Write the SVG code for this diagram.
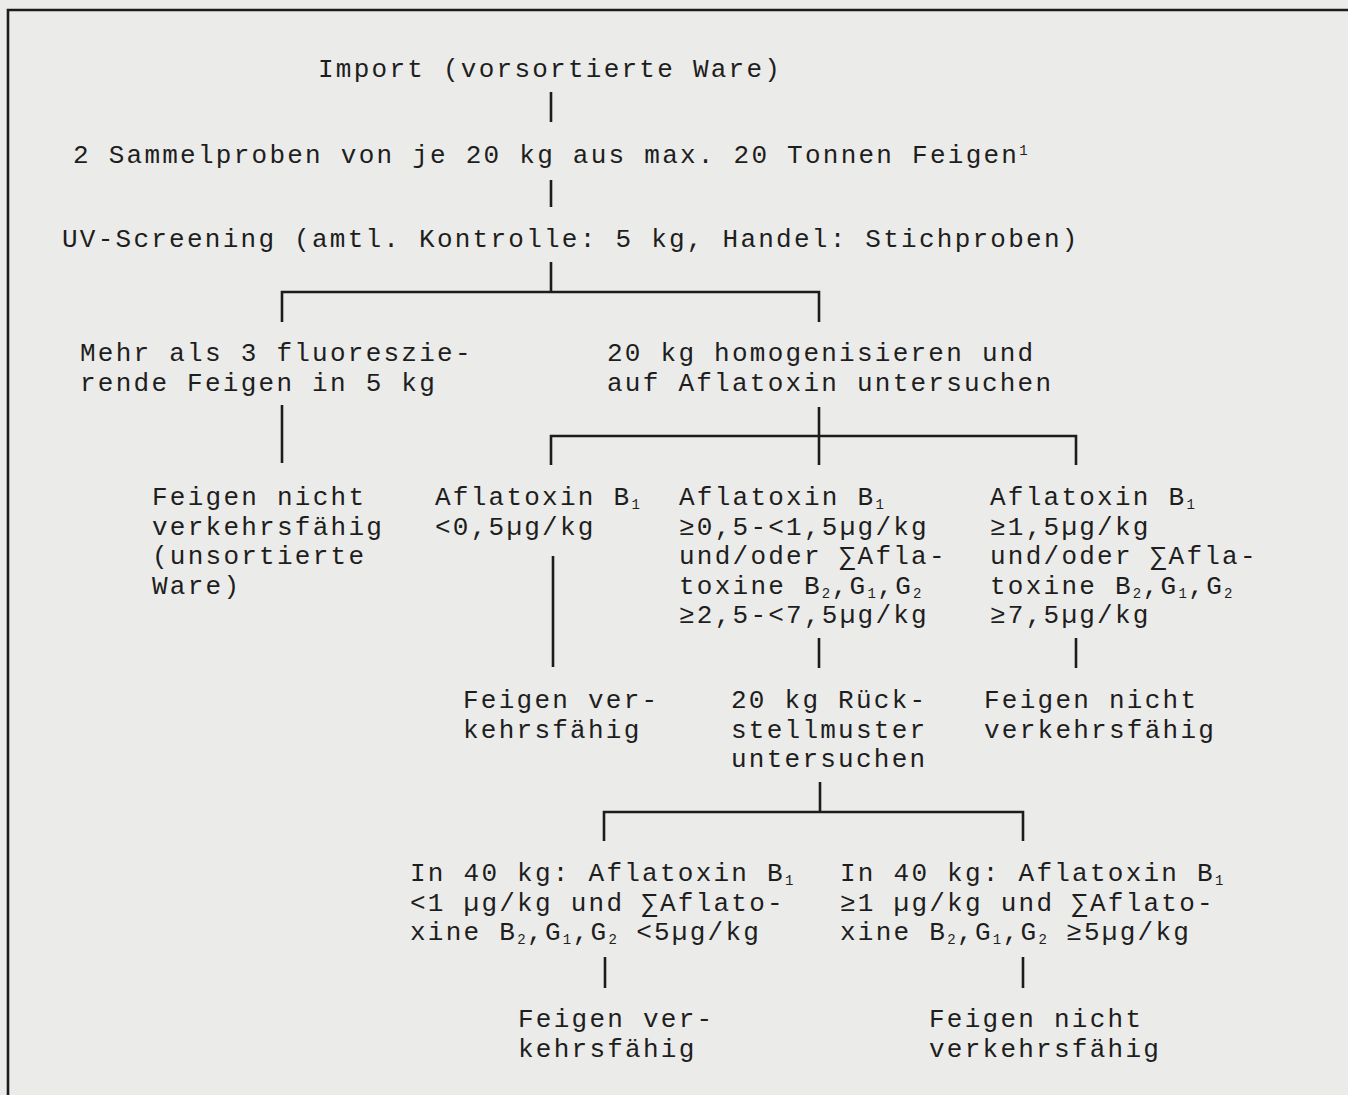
<svg xmlns="http://www.w3.org/2000/svg" width="1348" height="1095" viewBox="0 0 1348 1095">
<style>
  .t { font-family: "Liberation Mono", "Courier New", monospace; font-size: 26px; letter-spacing: 2.25px; fill: #1e1e1e; }
  .s { font-size: 14px; letter-spacing: 1.5px; }
  .ln { fill: none; stroke: #1c1c1c; stroke-width: 2.6; stroke-linecap: butt; stroke-linejoin: miter; }
</style>
<rect x="0" y="0" width="1348" height="1095" fill="#ebebe9"/>
<path class="ln" d="M8 1095 V10 H1348"/>
<g id="connectors">
  <path class="ln" d="M551 92 V122"/>
  <path class="ln" d="M551 180 V207"/>
  <path class="ln" d="M551 262 V292"/>
  <path class="ln" d="M282 322 V292 H819 V322"/>
  <path class="ln" d="M282 405 V463"/>
  <path class="ln" d="M819 407 V465"/>
  <path class="ln" d="M551 465 V436 H1076 V465"/>
  <path class="ln" d="M553 556 V667"/>
  <path class="ln" d="M819 638 V668"/>
  <path class="ln" d="M1076 638 V668"/>
  <path class="ln" d="M820 782 V812"/>
  <path class="ln" d="M604 841 V812 H1023 V841"/>
  <path class="ln" d="M605 957 V988"/>
  <path class="ln" d="M1023 957 V988"/>
</g>
<g id="n1"><text class="t" x="318" y="77">Import (vorsortierte Ware)</text></g>
<g id="n2"><text class="t" x="73" y="163">2 Sammelproben von je 20 kg aus max. 20 Tonnen Feigen<tspan class="s" dy="-8">1</tspan></text></g>
<g id="n3"><text class="t" x="62" y="247">UV-Screening (amtl. Kontrolle: 5 kg, Handel: Stichproben)</text></g>
<g id="n4"><text class="t" x="80" y="361"><tspan x="80">Mehr als 3 fluoreszie-</tspan><tspan x="80" dy="29.6">rende Feigen in 5 kg</tspan></text></g>
<g id="n5"><text class="t" x="607" y="361"><tspan x="607">20 kg homogenisieren und</tspan><tspan x="607" dy="29.6">auf Aflatoxin untersuchen</tspan></text></g>
<g id="n6"><text class="t" x="152" y="505"><tspan x="152">Feigen nicht</tspan><tspan x="152" dy="29.6">verkehrsfähig</tspan><tspan x="152" dy="29.6">(unsortierte</tspan><tspan x="152" dy="29.6">Ware)</tspan></text></g>
<g id="n7"><text class="t" x="435" y="505"><tspan x="435">Aflatoxin B</tspan><tspan class="s" dy="4">1</tspan><tspan x="435" dy="25.6">&lt;0,5µg/kg</tspan></text></g>
<g id="n8"><text class="t" x="679" y="505"><tspan x="679">Aflatoxin B</tspan><tspan class="s" dy="4">1</tspan><tspan x="679" dy="25.6">≥0,5-&lt;1,5µg/kg</tspan><tspan x="679" dy="29.6">und/oder ∑Afla-</tspan><tspan x="679" dy="29.6">toxine B</tspan><tspan class="s" dy="4">2</tspan><tspan dy="-4">,G</tspan><tspan class="s" dy="4">1</tspan><tspan dy="-4">,G</tspan><tspan class="s" dy="4">2</tspan><tspan x="679" dy="25.6">≥2,5-&lt;7,5µg/kg</tspan></text></g>
<g id="n9"><text class="t" x="990" y="505"><tspan x="990">Aflatoxin B</tspan><tspan class="s" dy="4">1</tspan><tspan x="990" dy="25.6">≥1,5µg/kg</tspan><tspan x="990" dy="29.6">und/oder ∑Afla-</tspan><tspan x="990" dy="29.6">toxine B</tspan><tspan class="s" dy="4">2</tspan><tspan dy="-4">,G</tspan><tspan class="s" dy="4">1</tspan><tspan dy="-4">,G</tspan><tspan class="s" dy="4">2</tspan><tspan x="990" dy="25.6">≥7,5µg/kg</tspan></text></g>
<g id="n10"><text class="t" x="463" y="708"><tspan x="463">Feigen ver-</tspan><tspan x="463" dy="29.6">kehrsfähig</tspan></text></g>
<g id="n11"><text class="t" x="731" y="708"><tspan x="731">20 kg Rück-</tspan><tspan x="731" dy="29.6">stellmuster</tspan><tspan x="731" dy="29.6">untersuchen</tspan></text></g>
<g id="n12"><text class="t" x="984" y="708"><tspan x="984">Feigen nicht</tspan><tspan x="984" dy="29.6">verkehrsfähig</tspan></text></g>
<g id="n13"><text class="t" x="410" y="881"><tspan x="410">In 40 kg: Aflatoxin B</tspan><tspan class="s" dy="4">1</tspan><tspan x="410" dy="25.6">&lt;1 µg/kg und ∑Aflato-</tspan><tspan x="410" dy="29.6">xine B</tspan><tspan class="s" dy="4">2</tspan><tspan dy="-4">,G</tspan><tspan class="s" dy="4">1</tspan><tspan dy="-4">,G</tspan><tspan class="s" dy="4">2</tspan><tspan dy="-4"> &lt;5µg/kg</tspan></text></g>
<g id="n14"><text class="t" x="840" y="881"><tspan x="840">In 40 kg: Aflatoxin B</tspan><tspan class="s" dy="4">1</tspan><tspan x="840" dy="25.6">≥1 µg/kg und ∑Aflato-</tspan><tspan x="840" dy="29.6">xine B</tspan><tspan class="s" dy="4">2</tspan><tspan dy="-4">,G</tspan><tspan class="s" dy="4">1</tspan><tspan dy="-4">,G</tspan><tspan class="s" dy="4">2</tspan><tspan dy="-4"> ≥5µg/kg</tspan></text></g>
<g id="n15"><text class="t" x="518" y="1027"><tspan x="518">Feigen ver-</tspan><tspan x="518" dy="29.6">kehrsfähig</tspan></text></g>
<g id="n16"><text class="t" x="929" y="1027"><tspan x="929">Feigen nicht</tspan><tspan x="929" dy="29.6">verkehrsfähig</tspan></text></g>
</svg>
